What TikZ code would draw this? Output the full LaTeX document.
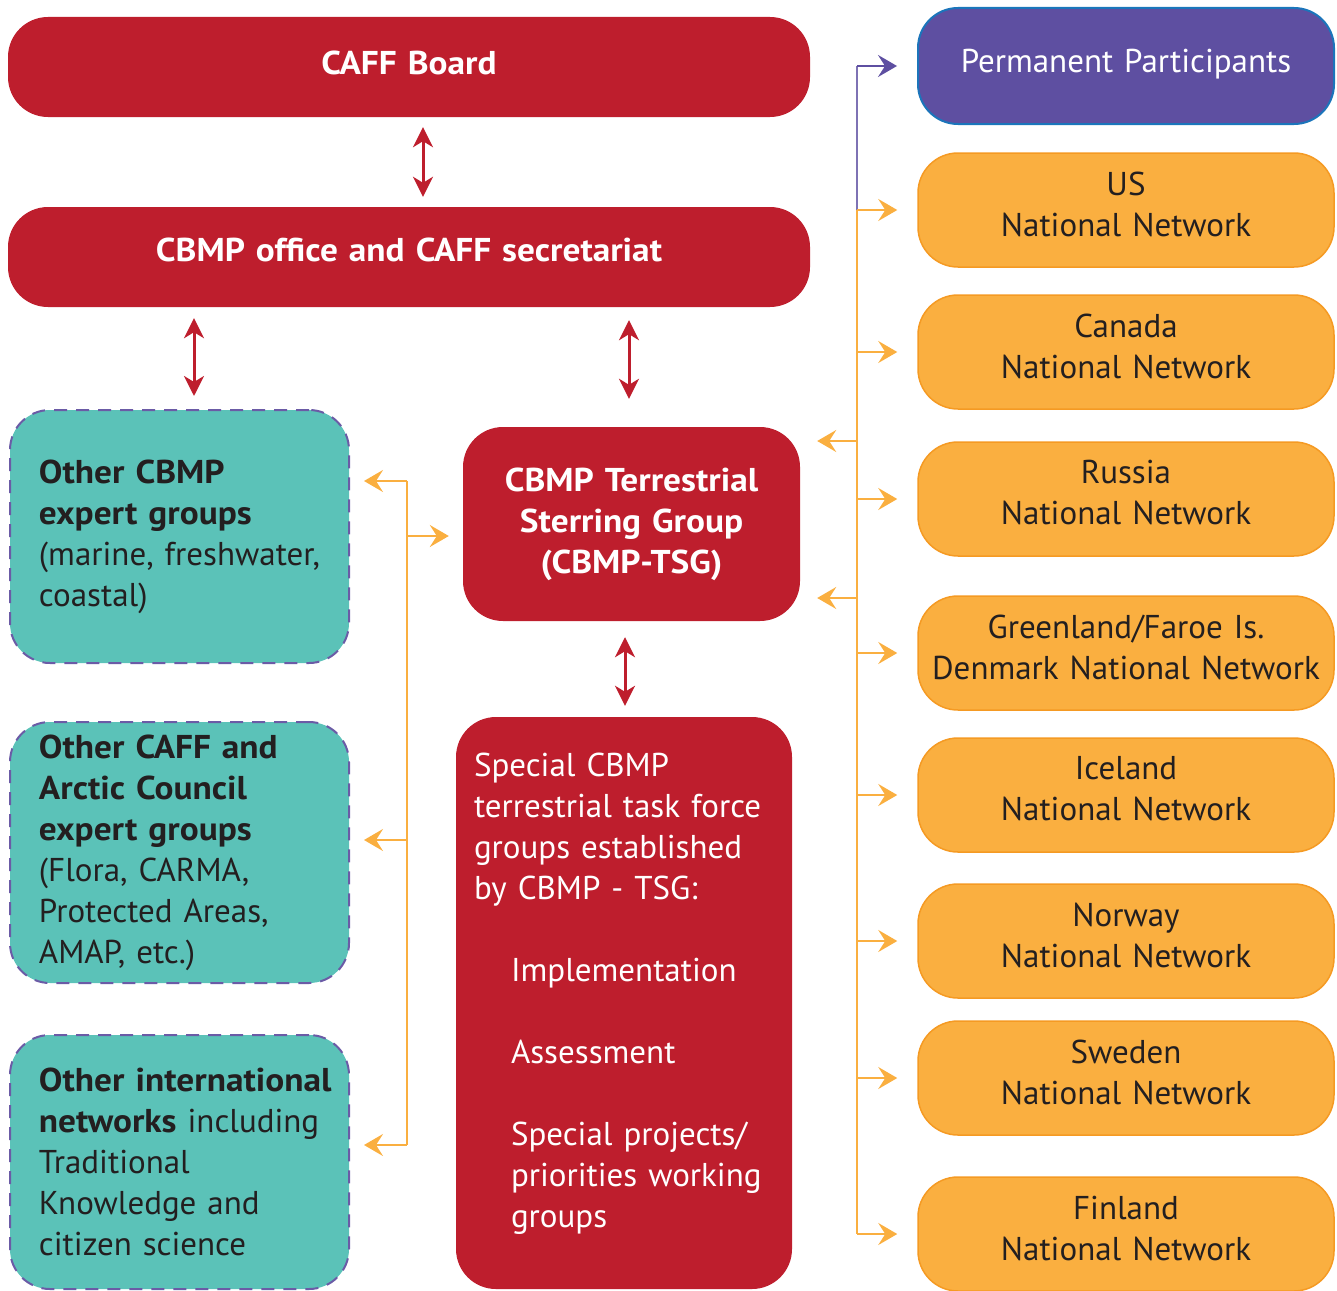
\documentclass[tikz,border=0pt]{standalone}
\usepackage{fontspec}
\setmainfont{PT Sans}[BoldFeatures={FakeStretch=1.07}]
\usetikzlibrary{arrows.meta}
\definecolor{cafred}{HTML}{BE1E2D}
\definecolor{cafteal}{HTML}{5BC2B8}
\definecolor{cafdash}{HTML}{6B5BA6}
\definecolor{caforange}{HTML}{FAAF40}
\definecolor{cafoline}{HTML}{F59A23}
\definecolor{cafpurple}{HTML}{5E4FA1}
\definecolor{cafblue}{HTML}{1B75BB}
\definecolor{cafink}{HTML}{231F20}

\begin{document}
\begin{tikzpicture}[x=1pt,y=-1pt]
    \tikzstyle{every node}=[inner sep=0pt, font=\fontsize{33}{41}\selectfont];
    \tikzstyle{redbox}=[fill=cafred, rounded corners=40pt, text=white];
    \tikzstyle{tealbox}=[fill=cafteal, draw=cafdash, line width=2pt, dash pattern=on 13pt off 9pt, rounded corners=40pt, text=cafink, text width=320pt, align=left, minimum width=339pt, execute at begin node={\leftskip=19.5pt\hyphenpenalty=10000}];
    \tikzstyle{netbox}=[fill=caforange, draw=cafoline, line width=1.5pt, rounded corners=40pt, text=cafink, minimum width=416pt, minimum height=114pt, text width=410pt, align=center, execute at end node={\vspace{12pt}}];
    \tikzstyle{redarrow}=[draw=cafred, line width=3pt, {Stealth[length=20pt,width=20pt,inset=6pt]}-{Stealth[length=20pt,width=20pt,inset=6pt]}];
    \tikzstyle{orangearrow}=[draw=caforange, line width=2pt, -{Stealth[length=19pt,width=22pt,inset=7pt]}];
    \useasboundingbox (0,0) rectangle (1337,1290);

    \node[redbox, minimum width=802pt, minimum height=100pt, text width=780pt, align=center] (board) at (409,67) {\bfseries CAFF Board\vspace{8pt}};
    \node[redbox, minimum width=802pt, minimum height=100pt, text width=780pt, align=center] (office) at (409,257) {\bfseries CBMP office and CAFF secretariat\vspace{14pt}};
    \node[redbox, minimum width=337pt, minimum height=194pt, text width=320pt, align=center] (tsg) at (631.5,524) {\bfseries CBMP Terrestrial\\ Sterring Group\\ (CBMP-TSG)};
    \node[redbox, minimum width=336pt, minimum height=572pt, text width=300pt, align=left] (task) at (624,1003) {Special CBMP\\ terrestrial task force\\ groups established\\ by CBMP - TSG:\\[41pt]
        \hspace*{37pt}Implementation\\[41pt]
        \hspace*{37pt}Assessment\\[41pt]
        \hspace*{37pt}Special projects/\\ \hspace*{37pt}priorities working\\ \hspace*{37pt}groups\vspace{18pt}};

    \node[tealbox, minimum height=253pt] (expert) at (179.5,536.5) {\textbf{Other CBMP}\\ \textbf{expert groups}\\ (marine, freshwater,\\ coastal)};
    \node[tealbox, minimum height=261pt] (arctic) at (179.5,852.5) {\textbf{Other CAFF and}\\ \textbf{Arctic Council}\\ \textbf{expert groups}\\ (Flora, CARMA,\\ Protected Areas,\\ AMAP, etc.)};
    \node[tealbox, minimum height=254pt] (intl) at (179.5,1162) {\textbf{Other international}\\ \textbf{networks} including\\ Traditional\\ Knowledge and\\ citizen science};

    \node[fill=cafpurple, draw=cafblue, line width=2pt, rounded corners=40pt, text=white, minimum width=416pt, minimum height=116pt, text width=410pt, align=center] (pp) at (1126,66) {Permanent Participants\vspace{4pt}};
    \node[netbox] (us) at (1126,210) {US\\ National Network};
    \node[netbox] (ca) at (1126,352) {Canada\\ National Network};
    \node[netbox] (ru) at (1126,499) {Russia\\ National Network};
    \node[netbox] (gl) at (1126,653) {Greenland/Faroe Is.\\ Denmark National Network};
    \node[netbox] (is) at (1126,795) {Iceland\\ National Network};
    \node[netbox] (no) at (1126,941) {Norway\\ National Network};
    \node[netbox] (se) at (1126,1078) {Sweden\\ National Network};
    \node[netbox] (fi) at (1126,1234) {Finland\\ National Network};

    \draw[redarrow, shorten <=10pt, shorten >=10pt] (board.south -| 423,0) -- (office.north -| 423,0);
    \draw[redarrow, shorten <=11pt, shorten >=13pt] (office.south -| 194,0) -- (expert.north -| 194,0);
    \draw[redarrow, shorten <=13pt, shorten >=28pt] (office.south -| 629,0) -- (tsg.north -| 629,0);
    \draw[redarrow, shorten <=16pt, shorten >=11pt] (tsg.south -| 625,0) -- (task.north -| 625,0);

    \coordinate (rbus) at (857,0);
    \coordinate (t1) at (857,441);
    \coordinate (t2) at (857,598);
    \coordinate (l1) at (407,481);
    \coordinate (l2) at (407,536);
    \coordinate (l3) at (407,840);
    \coordinate (l4) at (407,1145);

    \draw[draw=cafpurple!80, line width=2pt] (rbus |- us.west) -- (rbus |- pp.west);
    \draw[draw=cafpurple, line width=2pt, -{Stealth[length=19pt,width=22pt,inset=7pt]}, shorten >=20pt] (rbus |- pp.west) -- (pp.west);
    \draw[draw=caforange, line width=2pt] (rbus |- us.west) -- (rbus |- fi.west);
    \foreach \n in {us,ca,ru,gl,is,no,se,fi}
        \draw[orangearrow, shorten >=20pt] (rbus |- \n.west) -- (\n.west);
    \draw[orangearrow, shorten >=17pt] (t1) -- (t1 -| tsg.east);
    \draw[orangearrow, shorten >=17pt] (t2) -- (t2 -| tsg.east);

    \draw[draw=caforange, line width=2pt] (l1) -- (l4);
    \draw[orangearrow, shorten >=14pt] (l1) -- (l1 -| expert.east);
    \draw[orangearrow, shorten >=14pt] (l2) -- (l2 -| tsg.west);
    \draw[orangearrow, shorten >=14pt] (l3) -- (l3 -| arctic.east);
    \draw[orangearrow, shorten >=14pt] (l4) -- (l4 -| intl.east);
\end{tikzpicture}
\end{document}
